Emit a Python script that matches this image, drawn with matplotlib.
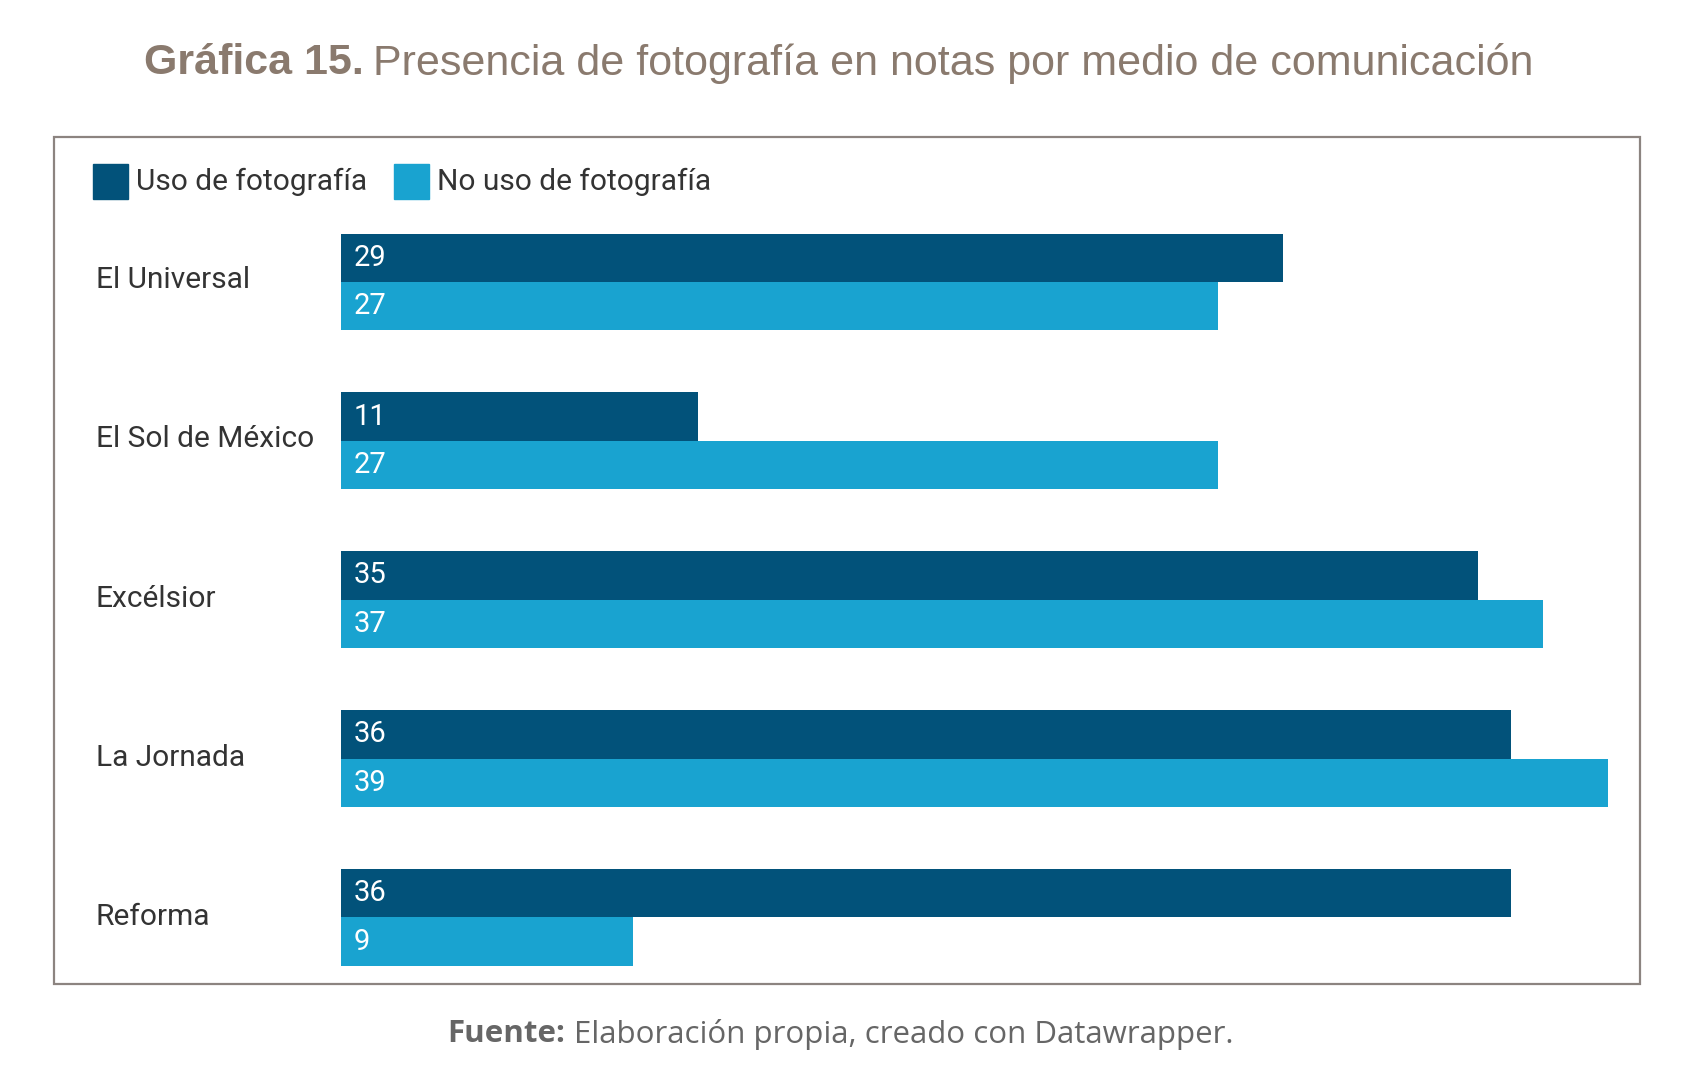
import numpy as np
import matplotlib
matplotlib.use('Agg')
import matplotlib.pyplot as plt
from matplotlib.patches import Rectangle

medios = ['El Universal', 'El Sol de México', 'Excélsior', 'La Jornada', 'Reforma']
uso_foto = [29, 11, 35, 36, 36]
no_uso_foto = [27, 27, 37, 39, 9]
series_names = ['Uso de fotografía', 'No uso de fotografía']

c_dark = '#02527a'
c_light = '#19a3d0'
c_text = '#333333'
c_title = '#8a7a6e'

W, H = 1560.0, 997.0  # reference layout units

fig = plt.figure(figsize=(16.94, 10.83), dpi=100)

# frame around the chart
fig.patches.append(Rectangle((50 / W, 1 - 906 / H), 1460 / W, 780 / H,
                             transform=fig.transFigure, fill=False,
                             edgecolor='#8c8480', linewidth=1.6))

bh = 44.5 / 146.5
ax = fig.add_axes([314 / W, 1 - 889 / H, (1481 - 314) / W, (889 - 215) / H])
y = np.arange(len(medios))
ax.barh(y - bh / 2, uso_foto, height=bh, color=c_dark, align='center')
ax.barh(y + bh / 2, no_uso_foto, height=bh, color=c_light, align='center')
ax.set_xlim(0, 39)
ax.set_ylim(len(medios) - 1 + bh, -bh)
ax.axis('off')

for i in range(len(medios)):
    ax.text(0.40, i - bh / 2, str(uso_foto[i]), color='white', fontsize=21,
            family='Roboto', va='center', ha='left')
    ax.text(0.40, i + bh / 2, str(no_uso_foto[i]), color='white', fontsize=21,
            family='Roboto', va='center', ha='left')
    fig.text(88 / W, 1 - (258 + 146.5 * i) / H, medios[i], color=c_text,
             fontsize=21.5, family='Roboto', va='center', ha='left')

# legend
for k, (name, col, x0) in enumerate([(series_names[0], c_dark, 86),
                                     (series_names[1], c_light, 363)]):
    fig.patches.append(Rectangle((x0 / W, 1 - 183 / H), 32 / W, 32 / H,
                                 transform=fig.transFigure, color=col))
    fig.text((x0 + 39) / W, 1 - 167 / H, name, color=c_text, fontsize=21.5,
             family='Roboto', va='center', ha='left')

# title
t1 = fig.text(133 / W, 1 - 58 / H, 'Gráfica 15.', color=c_title, fontsize=31,
              family='Liberation Sans', weight='bold', va='center', ha='left')
fig.canvas.draw()
bb = t1.get_window_extent()
fig.text(bb.x1 / fig.bbox.width + 0.005, 1 - 58 / H,
         'Presencia de fotografía en notas por medio de comunicación',
         color=c_title, fontsize=31, family='Liberation Sans',
         va='center', ha='left')

# source
s1 = fig.text(412 / W, 1 - 952 / H, 'Fuente:', color='#666666', fontsize=22.5,
              family='Open Sans', weight='bold', va='center', ha='left')
fig.canvas.draw()
bb = s1.get_window_extent()
fig.text(bb.x1 / fig.bbox.width + 0.005, 1 - 952 / H,
         'Elaboración propia, creado con Datawrapper.', color='#666666',
         fontsize=22.5, family='Open Sans', va='center', ha='left')

plt.savefig('out.png', dpi=100)
